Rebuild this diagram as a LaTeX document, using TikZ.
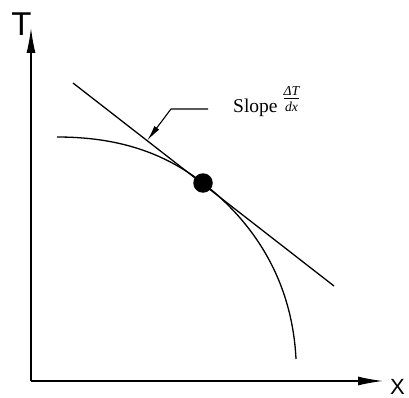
\documentclass[tikz,border=0pt]{standalone}
\usepackage{amsmath}
\usepackage{fontspec}
\setmainfont{Liberation Serif}
\newfontfamily\axisfont{Liberation Sans}
\usetikzlibrary{arrows.meta,calc}

\tikzset{
    axis/.style={line width=1.3pt, -{Latex[length=25pt, width=9pt]}},
    graph/.style={line width=1.3pt},
    leader/.style={line width=1.1pt, -{Latex[length=16pt, width=6pt]}},
    axislabel/.style={anchor=base, inner sep=0pt, font=\axisfont\fontsize{#1}{#1}\selectfont},
}

\begin{document}
\begin{tikzpicture}[x=1pt, y=-1pt]
    \useasboundingbox (0, 0) rectangle (409, 398);

    % axes
    \coordinate (O) at (31, 381);
    \coordinate (ytop) at (31, 28);
    \coordinate (xend) at (383, 381);
    \draw[axis] (O) -- (ytop);
    \draw[axis] (O) -- (xend);
    \node[axislabel=33] (T) at (21.5, 36) {T};
    \node[axislabel=22] (X) at (397.5, 394) {X};

    % curve and tangent
    \coordinate (P) at (203, 183);
    \coordinate (t1) at (73, 83);
    \coordinate (t2) at (334, 286);
    \draw[graph] (57, 137) .. controls (117, 137) and (163, 152) .. (P)
        .. controls (253, 222) and (292, 279) .. (296, 359);
    \draw[graph] (t1) -- (t2);
    \node[circle, fill, inner sep=0pt, minimum size=19.5pt] (dot) at (P) {};

    % slope label
    \node[anchor=base west, inner sep=0pt, font=\fontsize{19.5}{21}\selectfont] (slope) at (233, 113)
        {Slope \raisebox{9pt}{$\frac{\textit{ΔT}}{\textit{dx}}$}};
    \coordinate (tip) at ($(t1)!0.284!(t2)$);
    \coordinate (lead) at (208, 109);
    \coordinate (knee) at (171, 109);
    \draw[leader] (lead) -- (knee) -- (tip);
\end{tikzpicture}
\end{document}
